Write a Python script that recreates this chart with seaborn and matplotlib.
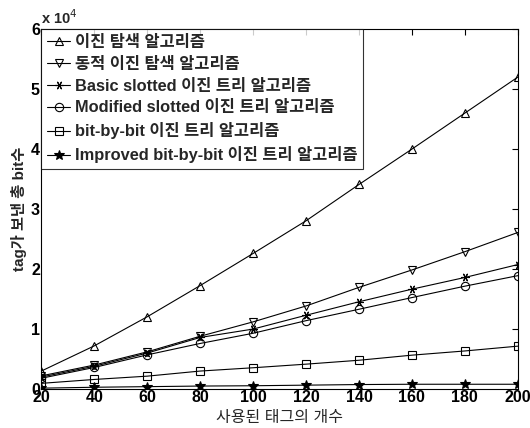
import numpy as np
import pandas as pd
import matplotlib
matplotlib.use("Agg")
import matplotlib.pyplot as plt
import seaborn as sns
from matplotlib.ticker import FuncFormatter, MultipleLocator

tags = [20, 40, 60, 80, 100, 120, 140, 160, 180, 200]

series_names = [
    "이진 탐색 알고리즘",
    "동적 이진 탐색 알고리즘",
    "Basic slotted 이진 트리 알고리즘",
    "Modified slotted 이진 트리 알고리즘",
    "bit-by-bit 이진 트리 알고리즘",
    "Improved bit-by-bit 이진 트리 알고리즘",
]

binary_search = [3000, 7200, 12050, 17250, 22600, 28050, 34100, 40000, 46000, 52000]
dynamic_binary = [2200, 4000, 6200, 8800, 11200, 13850, 16950, 19850, 22900, 26100]
basic_slotted = [2000, 3800, 6000, 8600, 10000, 12300, 14550, 16650, 18600, 20750]
modified_slotted = [1800, 3600, 5700, 7600, 9300, 11400, 13300, 15250, 17150, 18900]
bit_by_bit = [950, 1600, 2150, 3000, 3550, 4150, 4800, 5650, 6350, 7150]
improved_bit = [150, 300, 400, 500, 550, 650, 750, 800, 800, 800]

values = [binary_search, dynamic_binary, basic_slotted, modified_slotted, bit_by_bit, improved_bit]

sns.set_style("white")
plt.rcParams["font.family"] = ["Liberation Sans", "Noto Sans CJK KR"]

fig = plt.figure(figsize=(5.3, 4.28), dpi=100)
ax = fig.add_axes([0.078, 0.091, 0.899, 0.841])

markers = ["^", "v", (6, 2, 90), "o", "s", "*"]
for name, vals, mk in zip(series_names, values, markers):
    filled = mk == "*"
    sns.lineplot(
        x=tags, y=vals, ax=ax, color="black", linewidth=0.8,
        marker=mk, markersize=6 if not filled else 7,
        markerfacecolor="black" if filled else "none",
        markeredgecolor="black", markeredgewidth=0.8, label=name,
    )

ax.set_xlim(20, 200)
ax.set_ylim(0, 60000)
ax.xaxis.set_major_locator(MultipleLocator(20))
ax.yaxis.set_major_locator(MultipleLocator(10000))
ax.yaxis.set_major_formatter(FuncFormatter(lambda v, p: f"{v/1e4:g}"))
ax.tick_params(direction="in", length=4, width=0.8, top=True, right=True,
               labelsize=11.5, pad=1, colors="black")
for lab in ax.get_xticklabels() + ax.get_yticklabels():
    lab.set_fontweight("bold")
for sp in ax.spines.values():
    sp.set_color("black")
    sp.set_linewidth(0.8)

ax.text(0.0, 1.005, "x 10$^4$", transform=ax.transAxes, fontsize=10.5,
        fontweight="bold", ha="left", va="bottom")

ax.set_xlabel("사용된 태그의 개수", fontsize=11.5, labelpad=3)
ax.set_ylabel("tag가 보낸 총 bit수", fontsize=11, fontweight="bold", labelpad=3)

leg = ax.legend(loc="upper left", borderaxespad=0, fontsize=11.8, frameon=True,
                fancybox=False, edgecolor="black", handlelength=1.4,
                handletextpad=0.3, labelspacing=0.42, borderpad=0.35)
leg.get_frame().set_linewidth(0.8)
for t in leg.get_texts():
    t.set_fontweight("bold")

fig.savefig("out.png", dpi=100)
